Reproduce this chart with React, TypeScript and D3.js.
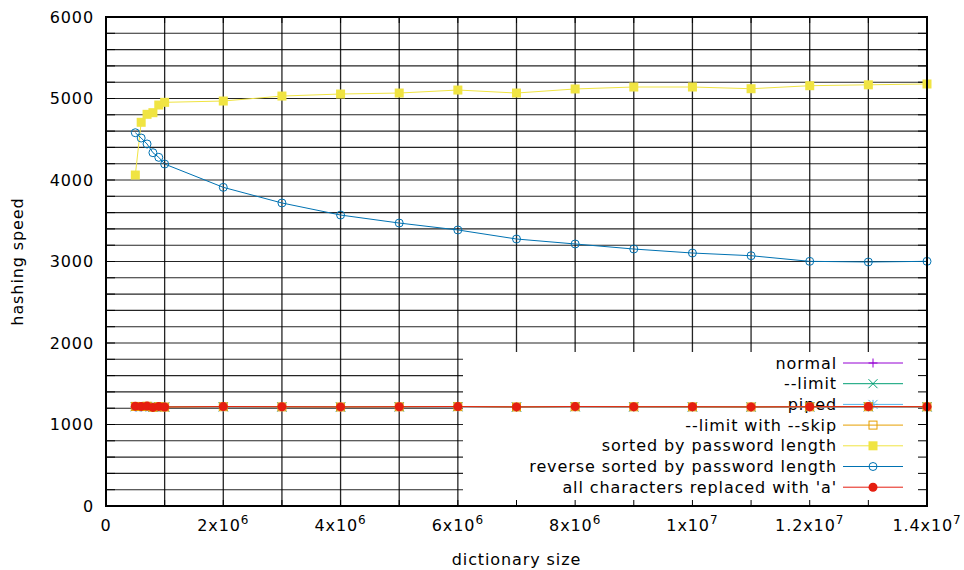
import React from 'react';
import * as d3 from 'd3';

// dictionary sizes (x) shared by every series
const dictSizes = [
  500000, 600000, 700000, 800000, 900000, 1000000, 2000000, 3000000, 4000000, 5000000,
  6000000, 7000000, 8000000, 9000000, 10000000, 11000000, 12000000, 13000000, 14000000,
];

const normal = [1218, 1216, 1220, 1212, 1216, 1214, 1217, 1215, 1214, 1216, 1218, 1214, 1217, 1216, 1215, 1214, 1216, 1217, 1216];
const limit = [1220, 1218, 1222, 1213, 1218, 1215, 1218, 1216, 1215, 1217, 1219, 1215, 1218, 1217, 1216, 1215, 1217, 1218, 1217];
const piped = [1216, 1215, 1219, 1211, 1215, 1213, 1216, 1214, 1213, 1215, 1217, 1213, 1216, 1215, 1214, 1213, 1215, 1216, 1215];
const limitSkip = [1222, 1220, 1224, 1212, 1218, 1214, 1218, 1216, 1215, 1217, 1219, 1215, 1218, 1217, 1216, 1215, 1217, 1218, 1217];
const sorted = [4061, 4708, 4806, 4826, 4920, 4953, 4969, 5030, 5055, 5067, 5104, 5067, 5117, 5141, 5141, 5120, 5157, 5168, 5178];
const reverseSorted = [4580, 4515, 4442, 4335, 4278, 4196, 3910, 3718, 3570, 3472, 3387, 3276, 3215, 3153, 3104, 3071, 3002, 2994, 3002];
const allA = [1225, 1222, 1226, 1210, 1222, 1215, 1220, 1218, 1216, 1218, 1220, 1216, 1220, 1218, 1218, 1216, 1218, 1220, 1218];

const xTickLabels = [
  { v: 0, base: '0', exp: '' },
  { v: 2000000, base: '2x10', exp: '6' },
  { v: 4000000, base: '4x10', exp: '6' },
  { v: 6000000, base: '6x10', exp: '6' },
  { v: 8000000, base: '8x10', exp: '6' },
  { v: 10000000, base: '1x10', exp: '7' },
  { v: 12000000, base: '1.2x10', exp: '7' },
  { v: 14000000, base: '1.4x10', exp: '7' },
];
const yTickLabels = [0, 1000, 2000, 3000, 4000, 5000, 6000];

const series = [
  { name: 'normal', values: normal, color: '#9400d3', mark: 'plus' },
  { name: '--limit', values: limit, color: '#009e73', mark: 'cross' },
  { name: 'piped', values: piped, color: '#56b4e9', mark: 'star' },
  { name: '--limit with --skip', values: limitSkip, color: '#e69f00', mark: 'openSquare' },
  { name: 'sorted by password length', values: sorted, color: '#f0e442', mark: 'square' },
  { name: 'reverse sorted by password length', values: reverseSorted, color: '#0072b2', mark: 'openCircle' },
  { name: "all characters replaced with 'a'", values: allA, color: '#e51e10', mark: 'circle' },
];

const W = 964;
const H = 570;
const margin = { top: 17, right: 37, bottom: 64, left: 106 };
const font = 'DejaVu Sans, sans-serif';

function Marker({ type, x, y, color }: { type: string; x: number; y: number; color: string }) {
  const s = 4.5;
  if (type === 'plus')
    return <path d={`M${x - s},${y}H${x + s}M${x},${y - s}V${y + s}`} stroke={color} strokeWidth={1} />;
  if (type === 'cross')
    return <path d={`M${x - s},${y - s}L${x + s},${y + s}M${x - s},${y + s}L${x + s},${y - s}`} stroke={color} strokeWidth={1} />;
  if (type === 'star')
    return (
      <path
        d={`M${x - s},${y}H${x + s}M${x},${y - s}V${y + s}M${x - s},${y - s}L${x + s},${y + s}M${x - s},${y + s}L${x + s},${y - s}`}
        stroke={color}
        strokeWidth={1}
      />
    );
  if (type === 'openSquare')
    return <rect x={x - 4} y={y - 4} width={8} height={8} fill="none" stroke={color} strokeWidth={1} />;
  if (type === 'square') return <rect x={x - 4.5} y={y - 4.5} width={9} height={9} fill={color} />;
  if (type === 'openCircle') return <circle cx={x} cy={y} r={4} fill="none" stroke={color} strokeWidth={1} />;
  return <circle cx={x} cy={y} r={4.5} fill={color} />;
}

export default function App() {
  const x = d3.scaleLinear().domain([0, 14000000]).range([margin.left, W - margin.right]);
  const y = d3.scaleLinear().domain([0, 6000]).range([H - margin.bottom, margin.top]);
  const x0 = margin.left;
  const x1 = W - margin.right;
  const y0 = H - margin.bottom;
  const y1 = margin.top;

  const xGrid = d3.range(0, 14000001, 1000000);
  const yGrid = d3.range(0, 6001, 200);

  const line = d3
    .line<number>()
    .x((_, i) => x(dictSizes[i]))
    .y((d) => y(d));

  // legend geometry
  const legendBox = { x: 463, y: 352 };
  const legendRow = (i: number) => 363 + i * 20.7;

  return (
    <svg
      width={W}
      height={H}
      style={{ position: 'absolute', left: 0, top: 0, background: '#fff' }}
      fontFamily={font}
      fontSize={16}
      letterSpacing={0.9}
    >
      <rect width={W} height={H} fill="#fff" />

      {/* grid */}
      {xGrid.map((v) => (
        <line key={'gx' + v} x1={x(v)} x2={x(v)} y1={y0} y2={y1} stroke="#000" strokeWidth={1.3} opacity={0.85} />
      ))}
      {yGrid.map((v) => (
        <line key={'gy' + v} x1={x0} x2={x1} y1={y(v)} y2={y(v)} stroke="#000" strokeWidth={1.1} opacity={0.85} />
      ))}

      {/* legend background */}
      <rect x={legendBox.x} y={legendBox.y} width={x1 - legendBox.x} height={y0 - legendBox.y} fill="#fff" />

      {/* ticks */}
      {yGrid.map((v) => (
        <g key={'ty' + v}>
          <line x1={x0} x2={x0 + 9} y1={y(v)} y2={y(v)} stroke="#000" />
          <line x1={x1} x2={x1 - 9} y1={y(v)} y2={y(v)} stroke="#000" />
        </g>
      ))}
      {xGrid.map((v) => (
        <g key={'tx' + v}>
          <line x1={x(v)} x2={x(v)} y1={y0} y2={y0 - 6} stroke="#000" />
          <line x1={x(v)} x2={x(v)} y1={y1} y2={y1 + 6} stroke="#000" />
        </g>
      ))}

      {/* legend */}
      {series.map((s, i) => (
        <g key={'lg' + s.name}>
          <text x={837} y={legendRow(i)} textAnchor="end" dominantBaseline="central" fill="#000">
            {s.name}
          </text>
          <line x1={843} x2={903} y1={legendRow(i)} y2={legendRow(i)} stroke={s.color} strokeWidth={1} />
          <Marker type={s.mark} x={873} y={legendRow(i)} color={s.color} />
        </g>
      ))}

      {/* data */}
      {series.map((s) => (
        <g key={'s' + s.name}>
          <path d={line(s.values) || ''} fill="none" stroke={s.color} strokeWidth={1} />
          {s.values.map((v, i) => (
            <Marker key={i} type={s.mark} x={x(dictSizes[i])} y={y(v)} color={s.color} />
          ))}
        </g>
      ))}

      {/* frame */}
      <rect x={x0} y={y1} width={x1 - x0} height={y0 - y1} fill="none" stroke="#000" strokeWidth={2} />

      {/* y tick labels */}
      {yTickLabels.map((v) => (
        <text key={'yl' + v} x={94} y={y(v)} textAnchor="end" dominantBaseline="central" fill="#000">
          {v}
        </text>
      ))}

      {/* x tick labels */}
      {xTickLabels.map((t) => (
        <text key={'xl' + t.v} x={x(t.v)} y={531} textAnchor="middle" fill="#000">
          {t.base}
          {t.exp && (
            <tspan dy={-7} fontSize={12}>
              {t.exp}
            </tspan>
          )}
        </text>
      ))}

      {/* axis titles */}
      <text x={(x0 + x1) / 2} y={565} textAnchor="middle" fill="#000">
        dictionary size
      </text>
      <text transform={`translate(23,${(y0 + y1) / 2}) rotate(-90)`} textAnchor="middle" fill="#000">
        hashing speed
      </text>
    </svg>
  );
}
